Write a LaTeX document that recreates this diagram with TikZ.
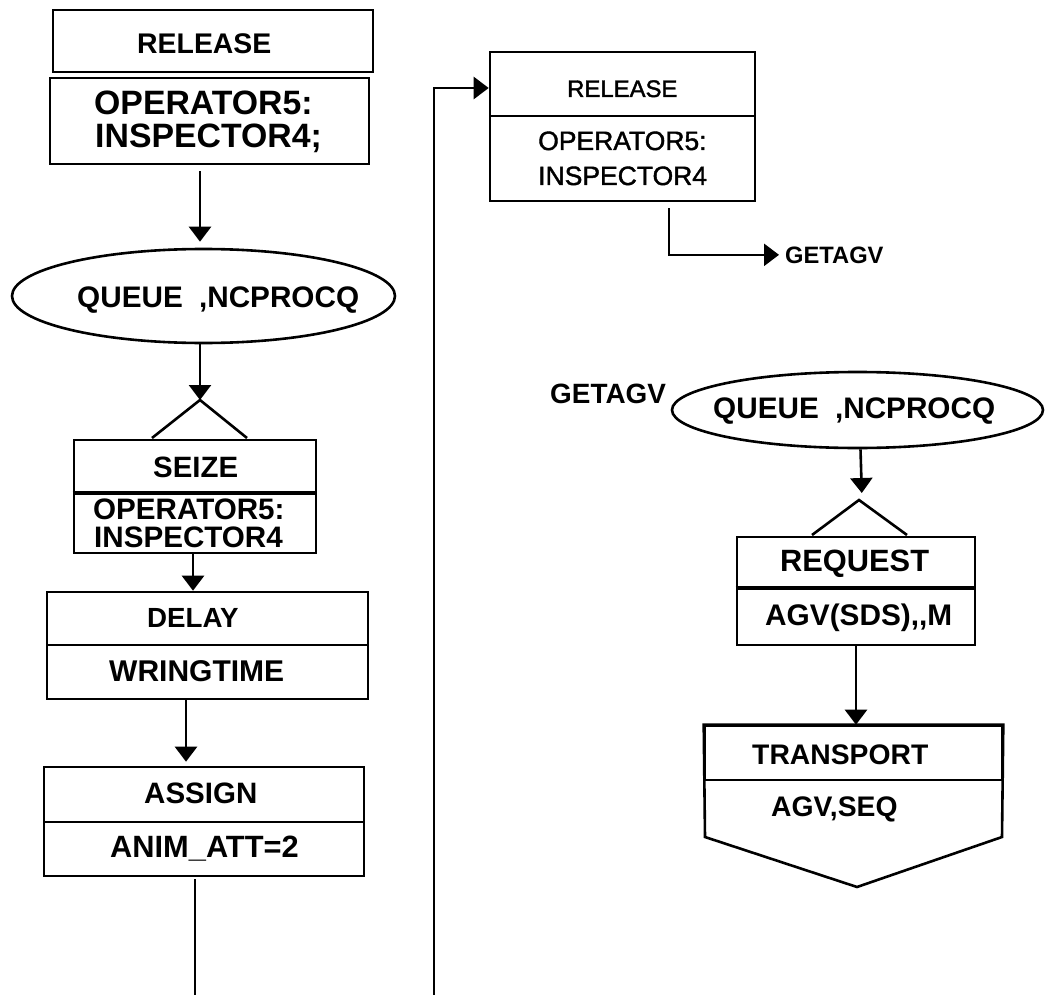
\documentclass[tikz,border=0pt]{standalone}
\usepackage{fontspec}
\setmainfont{Liberation Sans}
\newfontfamily\medfont{Liberation Sans}[FakeBold=1.5]
\usetikzlibrary{arrows.meta,shapes.geometric,calc}

\newcommand{\fsz}[1]{\fontsize{#1}{#1}\selectfont}

\tikzset{
  blk/.style={draw,rectangle,line width=2.6pt,inner sep=0pt},
  oval/.style={draw,ellipse,line width=2.6pt,inner sep=0pt},
  conn/.style={line width=2.6pt},
  arr/.style={line width=2.6pt,-{Triangle[length=15pt,width=22pt]}},
  txt/.style={inner sep=0pt,anchor=base west},
  bt/.style={txt,font={\bfseries\fsz{#1}}},
  rt/.style={txt,font={\medfont\fsz{#1}}},
  thickrule/.style={line width=4.2pt}
}

\begin{document}
\begin{tikzpicture}[x=1pt,y=-1pt]
\useasboundingbox (0,0) rectangle (1046,995);

% ---------------- left column ----------------
\node[blk,minimum width=320pt,minimum height=62pt] (relA) at (213,41) {};
\node[blk,minimum width=319pt,minimum height=86pt] (relB) at (209.5,121) {};
\node[bt=28.4] (tRel) at (137,54) {RELEASE};
\node[bt=33.8] (tOpA) at (94,115) {OPERATOR5:};
\node[bt=33.8] (tInA) at (95,148) {INSPECTOR4;};

\node[oval,minimum width=383pt,minimum height=94pt] (qA) at (203.5,296) {};
\node[bt=29.7] (tQA) at (77,307) {QUEUE\kern8pt\ ,NCPROCQ};

\coordinate (hatA) at (200,400);
\node[blk,minimum width=242pt,minimum height=52pt] (szA) at (195,466) {};
\node[blk,minimum width=242pt,minimum height=61pt] (szB) at (195,522.5) {};
\draw[thickrule] (szA.south west) -- (szA.south east);
\draw[conn,line join=miter] (152,438) -- (hatA) -- (247,438);
\node[bt=29.4] (tSz) at (153,477) {SEIZE};
\node[bt=29.6] (tOpS) at (93,519) {OPERATOR5:};
\node[bt=29.6] (tInS) at (94,547) {INSPECTOR4};

\node[blk,minimum width=321pt,minimum height=53pt] (dlA) at (207.5,618.5) {};
\node[blk,minimum width=321pt,minimum height=54pt] (dlB) at (207.5,672) {};
\node[bt=27.7] (tDl) at (147,627) {DELAY};
\node[bt=30] (tWr) at (109,681) {WRINGTIME};

\node[blk,minimum width=320pt,minimum height=55pt] (asA) at (204,794.5) {};
\node[blk,minimum width=320pt,minimum height=54pt] (asB) at (204,849) {};
\node[bt=29.5] (tAs) at (144,803) {ASSIGN};
\node[bt=30.8] (tAn) at (110,857) {ANIM\_ATT=2};

\coordinate (outL) at (195,995);

\draw[arr,shorten >=6pt] ([xshift=-9.5pt,yshift=-6pt]relB.south) -- ([xshift=-3.5pt]qA.north);
\draw[arr] ([xshift=-3.5pt]qA.south) -- (hatA);
\draw[arr] ([xshift=-2pt]szB.south) -- ([xshift=-14.5pt]dlA.north);
\draw[arr,shorten >=4pt] ([xshift=-21.5pt]dlB.south) -- ([xshift=-18pt]asA.north);
\draw[conn] ([xshift=-9pt,yshift=-2pt]asB.south) -- (outL);

% ---------------- right column ----------------
\node[blk,minimum width=265pt,minimum height=64pt] (relC) at (622.5,84) {};
\node[blk,minimum width=265pt,minimum height=85pt] (relD) at (622.5,158.5) {};
\node[rt=23.9] (tRelC) at (567,97) {RELEASE};
\node[rt=26.5] (tOpC) at (538,150) {OPERATOR5:};
\node[rt=26.5] (tInC) at (538,185) {INSPECTOR4};

\coordinate (inM) at (434,995);
\draw[arr] (inM) |- ([yshift=-4pt]relC.west);

\node[bt=23.7] (goto) at (785,263) {GETAGV};
\draw[arr,shorten >=6pt] ([xshift=46.5pt,yshift=-6pt]relD.south) |- (goto.west);

\node[bt=27.9] (lbl) at (550,403) {GETAGV};
\node[oval,minimum width=371pt,minimum height=76pt] (qB) at (857.5,410) {};
\node[bt=29.7] (tQB) at (713,418) {QUEUE\kern8pt\ ,NCPROCQ};

\coordinate (hatB) at (859,500);
\node[blk,minimum width=238pt,minimum height=50pt] (rqA) at (856,562) {};
\node[blk,minimum width=238pt,minimum height=58pt] (rqB) at (856,616) {};
\draw[thickrule] (rqA.south west) -- (rqA.south east);
\draw[conn,line join=miter] (812,535) -- (hatB) -- (907,535);
\node[bt=30.8] (tRq) at (780,571) {REQUEST};
\node[bt=29.8] (tAgv) at (765,625) {AGV(SDS),\kern0pt,M};

\draw[arr,shorten >=7pt] ([xshift=3pt]qB.south) -- ([xshift=3pt]hatB);

% TRANSPORT block: header box and pointed lower part
\node[blk,minimum width=297pt,minimum height=54pt] (trA) at (853.5,753) {};
\draw[conn,line join=miter] (trA.north west) -- (trA.north east) -- (1002,837)
  -- (857,887) -- (705,837) -- cycle;
\node[bt=28.3] (tTr) at (752,764) {TRANSPORT};
\node[bt=28.3] (tSeq) at (771,816) {AGV,SEQ};

\draw[arr] (rqB.south) -- (rqB.south |- trA.north);
\end{tikzpicture}
\end{document}
